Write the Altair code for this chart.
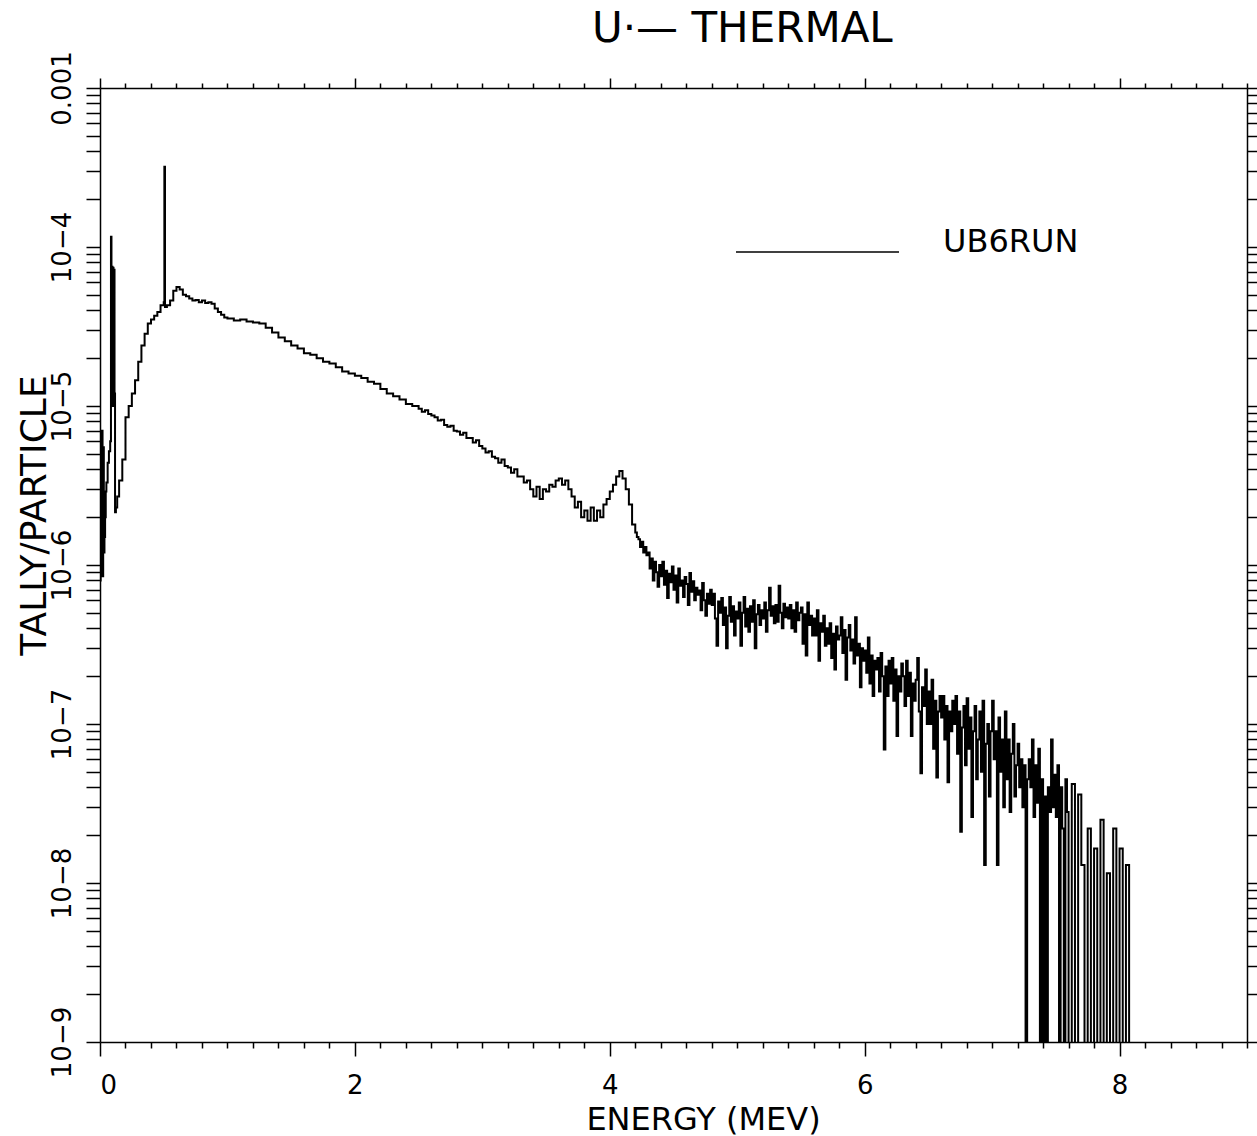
import altair as alt
import pandas as pd

FONT = "DejaVu Sans"

# ---- data ----
# low-energy part: bin lower edges (MeV) and tally/particle
low_energy = [
    0.000, 0.005, 0.010, 0.015, 0.020, 0.025, 0.030, 0.035, 0.040, 0.045,
    0.050, 0.060, 0.070, 0.080, 0.086, 0.090, 0.094, 0.098, 0.102, 0.106,
    0.110, 0.114, 0.118, 0.125, 0.135, 0.150, 0.175, 0.200, 0.225, 0.250,
    0.275, 0.300, 0.325, 0.350, 0.375, 0.400, 0.425, 0.450, 0.475, 0.500,
    0.505, 0.510, 0.525, 0.550, 0.575, 0.600, 0.625, 0.650, 0.675, 0.700,
    0.725, 0.750, 0.775, 0.800, 0.825, 0.850, 0.875, 0.900, 0.925, 0.950,
    0.975, 1.000, 1.050, 1.100, 1.150, 1.200, 1.250, 1.300, 1.350, 1.400,
    1.450, 1.500, 1.550, 1.600, 1.650, 1.700, 1.750, 1.800, 1.850, 1.900,
    1.950, 2.000, 2.050, 2.100, 2.150, 2.200, 2.250, 2.300, 2.350, 2.400,
    2.450,
]
low_tally = [
    8.0e-7, 6.5e-6, 9.0e-7, 7.0e-6, 8.5e-7, 5.5e-6, 1.2e-6, 1.5e-6, 2.0e-6, 2.9e-6,
    3.3e-6, 4.4e-6, 5.2e-6, 6.0e-6, 1.16e-4, 1.0e-5, 7.5e-5, 1.1e-5, 7.4e-5, 1.0e-5,
    7.2e-5, 1.2e-5, 2.15e-6, 2.3e-6, 2.7e-6, 3.4e-6, 4.6e-6, 8.5e-6, 1.0e-5, 1.2e-5,
    1.45e-5, 1.9e-5, 2.4e-5, 2.85e-5, 3.3e-5, 3.5e-5, 3.7e-5, 3.9e-5, 4.3e-5, 4.5e-5,
    3.2e-4, 4.2e-5, 4.3e-5, 4.6e-5, 5.3e-5, 5.6e-5, 5.4e-5, 5.0e-5, 4.9e-5, 4.75e-5,
    4.6e-5, 4.65e-5, 4.5e-5, 4.6e-5, 4.45e-5, 4.5e-5, 4.4e-5, 4.1e-5, 3.9e-5, 3.75e-5,
    3.6e-5, 3.55e-5, 3.45e-5, 3.5e-5, 3.4e-5, 3.35e-5, 3.3e-5, 3.1e-5, 2.9e-5, 2.7e-5,
    2.55e-5, 2.4e-5, 2.3e-5, 2.15e-5, 2.1e-5, 2.0e-5, 1.9e-5, 1.85e-5, 1.75e-5, 1.65e-5,
    1.6e-5, 1.55e-5, 1.5e-5, 1.42e-5, 1.38e-5, 1.28e-5, 1.2e-5, 1.15e-5, 1.1e-5, 1.03e-5,
    1.0e-5,
]

# 2.5 - 4.2 MeV: uniform bins of 0.025 MeV
mid_start, mid_width = 2.5, 0.025
mid_tally = [
    9.6e-6, 9.2e-6, 9.4e-6, 8.9e-6,      # 2.5
    8.7e-6, 8.5e-6, 8.1e-6, 8.2e-6,      # 2.6
    7.6e-6, 7.4e-6, 7.5e-6, 7.0e-6,      # 2.7
    6.9e-6, 6.6e-6, 6.8e-6, 6.3e-6,      # 2.8
    6.3e-6, 5.9e-6, 6.1e-6, 5.6e-6,      # 2.9
    5.4e-6, 5.1e-6, 5.2e-6, 4.8e-6,      # 3.0
    4.7e-6, 4.4e-6, 4.6e-6, 4.2e-6,      # 3.1
    4.1e-6, 3.8e-6, 4.0e-6, 3.6e-6,      # 3.2
    3.6e-6, 3.3e-6, 3.4e-6, 3.0e-6,      # 3.3
    2.7e-6, 3.1e-6, 2.6e-6, 3.0e-6,      # 3.4
    2.9e-6, 3.2e-6, 3.1e-6, 3.4e-6,      # 3.5
    3.5e-6, 3.2e-6, 3.4e-6, 3.0e-6,      # 3.6
    2.7e-6, 2.3e-6, 2.5e-6, 2.0e-6,      # 3.7
    2.2e-6, 1.9e-6, 2.3e-6, 1.9e-6,      # 3.8
    2.2e-6, 2.0e-6, 2.4e-6, 2.6e-6,      # 3.9
    2.9e-6, 3.2e-6, 3.6e-6, 3.9e-6,      # 4.0
    3.5e-6, 3.0e-6, 2.4e-6, 1.8e-6,      # 4.1
]

# 4.2 - 7.6 MeV: uniform bins of 0.0125 MeV (0 = empty bin)
hi_start, hi_width = 4.2, 0.0125
hi_tally = [
    1.6e-6, 1.5e-6, 1.45e-6, 1.3e-6, 1.4e-6, 1.2e-6, 1.3e-6, 1.15e-6,      # 4.2
    1.2e-6, 9.5e-7, 1.1e-6, 8.0e-7, 1.05e-6, 9.0e-7, 7.3e-7, 1.0e-6,       # 4.3
    8.5e-7, 1.05e-6, 7.5e-7, 9.2e-7, 6.2e-7, 8.8e-7, 7.8e-7, 9.8e-7,       # 4.4
    7.0e-7, 8.6e-7, 5.8e-7, 9.5e-7, 7.4e-7, 8.0e-7, 6.3e-7, 8.4e-7,        # 4.5
    7.6e-7, 5.6e-7, 8.9e-7, 6.8e-7, 7.9e-7, 6.0e-7, 7.2e-7, 6.5e-7,        # 4.6
    6.9e-7, 5.2e-7, 7.7e-7, 6.0e-7, 4.8e-7, 6.6e-7, 5.7e-7, 7.0e-7,        # 4.7
    5.6e-7, 6.6e-7, 4.6e-7, 3.1e-7, 5.9e-7, 5.0e-7, 6.2e-7, 4.2e-7,        # 4.8
    5.4e-7, 3.0e-7, 4.8e-7, 6.3e-7, 4.4e-7, 5.5e-7, 3.6e-7, 5.1e-7,        # 4.9
    4.6e-7, 5.8e-7, 3.1e-7, 5.0e-7, 6.3e-7, 4.1e-7, 5.3e-7, 3.8e-7,        # 5.0
    5.5e-7, 4.4e-7, 6.0e-7, 3.0e-7, 4.9e-7, 5.6e-7, 4.2e-7, 5.2e-7,        # 5.1
    4.6e-7, 5.8e-7, 3.8e-7, 5.2e-7, 7.2e-7, 4.8e-7, 5.5e-7, 4.3e-7,        # 5.2
    5.6e-7, 4.4e-7, 7.4e-7, 5.0e-7, 4.0e-7, 5.7e-7, 4.7e-7, 5.4e-7,        # 5.3
    4.6e-7, 5.6e-7, 4.0e-7, 5.2e-7, 3.8e-7, 5.8e-7, 4.5e-7, 5.0e-7,        # 5.4
    5.4e-7, 3.2e-7, 4.9e-7, 2.7e-7, 5.8e-7, 4.2e-7, 4.8e-7, 3.6e-7,        # 5.5
    4.6e-7, 3.6e-7, 5.2e-7, 2.5e-7, 4.3e-7, 3.8e-7, 4.8e-7, 3.1e-7,        # 5.6
    4.0e-7, 3.2e-7, 4.3e-7, 2.6e-7, 3.7e-7, 2.2e-7, 4.1e-7, 3.4e-7,        # 5.7
    3.6e-7, 4.7e-7, 2.8e-7, 3.9e-7, 1.9e-7, 3.5e-7, 4.2e-7, 2.9e-7,        # 5.8
    3.4e-7, 2.4e-7, 4.7e-7, 2.7e-7, 3.2e-7, 1.7e-7, 3.0e-7, 2.5e-7,        # 5.9
    2.9e-7, 2.1e-7, 3.5e-7, 1.8e-7, 2.7e-7, 1.5e-7, 2.5e-7, 2.2e-7,        # 6.0
    2.6e-7, 1.6e-7, 2.8e-7, 2.0e-7, 6.9e-8, 2.3e-7, 1.5e-7, 2.5e-7,        # 6.1
    1.8e-7, 2.6e-7, 1.4e-7, 2.2e-7, 8.4e-8, 2.0e-7, 1.6e-7, 2.4e-7,        # 6.2
    2.0e-7, 1.3e-7, 2.5e-7, 1.5e-7, 2.1e-7, 8.4e-8, 1.8e-7, 1.4e-7,        # 6.3
    1.9e-7, 2.6e-7, 1.2e-7, 4.9e-8, 1.7e-7, 1.3e-7, 2.2e-7, 1.0e-7,        # 6.4
    1.6e-7, 1.0e-7, 1.9e-7, 7.0e-8, 1.4e-7, 4.6e-8, 1.2e-7, 1.5e-7,        # 6.5
    1.1e-7, 1.5e-7, 8.0e-8, 1.3e-7, 4.3e-8, 1.2e-7, 9.0e-8, 1.4e-7,        # 6.6
    1.0e-7, 1.5e-7, 6.5e-8, 1.2e-7, 2.1e-8, 9.5e-8, 1.3e-7, 5.5e-8,        # 6.7
    1.45e-7, 7.0e-8, 1.1e-7, 2.6e-8, 9.0e-8, 1.3e-7, 4.5e-8, 8.0e-8,       # 6.8
    1.2e-7, 5.0e-8, 1.4e-7, 1.3e-8, 7.5e-8, 1.0e-7, 3.5e-8, 9.0e-8,        # 6.9
    1.4e-7, 6.0e-8, 9.0e-8, 1.3e-8, 1.1e-7, 5.0e-8, 8.0e-8, 3.0e-8,        # 7.0
    1.2e-7, 4.5e-8, 8.0e-8, 2.8e-8, 6.5e-8, 1.0e-7, 3.5e-8, 5.5e-8,        # 7.1
    7.5e-8, 4.0e-8, 6.0e-8, 3.0e-8, 5.5e-8, 0, 4.5e-8, 6.0e-8,             # 7.2
    4.0e-8, 8.0e-8, 2.6e-8, 5.5e-8, 3.2e-8, 7.0e-8, 0, 4.5e-8,             # 7.3
    0, 3.5e-8, 0, 4.0e-8, 2.8e-8, 8.0e-8, 3.0e-8, 4.8e-8,                  # 7.4
    2.6e-8, 5.5e-8, 0, 4.0e-8, 2.2e-8, 0, 4.5e-8, 2.8e-8,                  # 7.5
]

# 7.6 - 8.1 MeV: uniform bins of 0.025 MeV (0 = empty bin)
tail_start, tail_width = 7.6, 0.025
tail_tally = [
    0, 4.2e-8, 0, 3.6e-8,                # 7.6
    1.3e-8, 0, 2.2e-8, 0,                # 7.7
    1.65e-8, 0, 2.5e-8, 0,               # 7.8
    1.15e-8, 0, 2.2e-8, 0,               # 7.9
    1.65e-8, 0, 1.3e-8, 0,               # 8.0
]
end_energy = 8.1

series_name = "UB6RUN"
title_text = "U·—  THERMAL"
x_title = "ENERGY (MEV)"
y_title = "TALLY/PARTICLE"

x_ticks = [round(i * 0.2, 1) for i in range(46)]
y_ticks = [float(f"{m}e{e}") for e in range(-9, -3) for m in range(1, 10)] + [1e-3]

# ---- table ----
FLOOR = 1e-11  # empty bins drop below the axis


def edges(start, width, n):
    return [round(start + i * width, 5) for i in range(n)]


energy = (list(low_energy)
          + edges(mid_start, mid_width, len(mid_tally))
          + edges(hi_start, hi_width, len(hi_tally))
          + edges(tail_start, tail_width, len(tail_tally))
          + [end_energy])
tally = list(low_tally) + mid_tally + hi_tally + tail_tally + [0]
tally = [v if v > 0 else FLOOR for v in tally]
df = pd.DataFrame({"energy": energy, "tally": tally, "series": series_name})

major_test = "abs(datum.value % 2) < 0.001"
decade_test = "abs(log(datum.value)/LN10 - round(log(datum.value)/LN10)) < 0.001"

bottom_axis = alt.Axis(
    orient="bottom", values=x_ticks, grid=False,
    labelExpr=f"{major_test} ? format(datum.value, 'd') : ''",
    tickSize={"condition": {"test": major_test, "value": 14}, "value": 6},
    tickColor="black", tickWidth=1.5, domainColor="black", domainWidth=1.5,
    labelFont=FONT, labelFontSize=26, labelColor="black", labelPadding=16,
    labelOverlap=False,
    title=x_title, titleFont=FONT, titleFontSize=32, titleFontWeight="normal",
    titleColor="black", titleX=603, titleY=87, titleAlign="center",
    titleBaseline="alphabetic",
)
left_axis = alt.Axis(
    orient="left", values=y_ticks, grid=False,
    labelExpr=f"{decade_test} ? (datum.value > 0.0005 ? '0.001' : '10\u2212' + (-round(log(datum.value)/LN10))) : ''",
    tickSize=14, tickColor="black", tickWidth=1.5,
    domainColor="black", domainWidth=1.5,
    labelFont=FONT, labelFontSize=26, labelColor="black", labelPadding=11,
    labelAngle=270, labelAlign="center", labelBaseline="bottom", labelOverlap=False,
    title=y_title, titleFont=FONT, titleFontSize=36, titleFontWeight="normal",
    titleColor="black", titleAngle=270, titleX=-55, titleY=427,
    titleAlign="center", titleBaseline="alphabetic",
)
top_axis = alt.Axis(
    orient="top", values=x_ticks, grid=False, labels=False, title="",
    tickSize={"condition": {"test": major_test, "value": 10}, "value": 5},
    tickColor="black", tickWidth=1.5, domainColor="black", domainWidth=1.5,
)
right_axis = alt.Axis(
    orient="right", values=y_ticks, grid=False, labels=False, title="",
    tickSize=10, tickColor="black", tickWidth=1.5,
    domainColor="black", domainWidth=1.5,
)

legend = alt.Legend(
    orient="none", legendX=635, legendY=81.5, title=None,
    symbolType="stroke", symbolSize=26569, symbolStrokeWidth=1.5,
    symbolStrokeColor="black", labelFont=FONT, labelFontSize=32,
    labelColor="black", labelOffset=43, labelBaseline="alphabetic", padding=0,
)

x_scale = alt.Scale(domain=[0, 9], nice=False, zero=False)
y_scale = alt.Scale(type="log", domain=[1e-9, 1e-3], nice=False)

base = alt.Chart(df)
line = base.mark_line(interpolate="step-after", strokeWidth=2, clip=True).encode(
    x=alt.X("energy:Q", scale=x_scale, axis=bottom_axis),
    y=alt.Y("tally:Q", scale=y_scale, axis=left_axis),
    color=alt.Color("series:N", scale=alt.Scale(range=["black"]), legend=legend),
)
frame = base.mark_line(opacity=0, clip=True).encode(
    x=alt.X("energy:Q", scale=x_scale, axis=top_axis),
    y=alt.Y("tally:Q", scale=y_scale, axis=right_axis),
)

chart = (
    alt.layer(line, frame)
    .resolve_axis(x="independent", y="independent")
    .properties(
        width=1147, height=954,
        title=alt.TitleParams(
            text=title_text, anchor="start", dx=576, offset=-33,
            font=FONT, fontSize=42, fontWeight="normal", color="black",
            baseline="alphabetic",
        ),
        padding={"left": 100, "top": 88, "right": 10, "bottom": 94},
        autosize=alt.AutoSizeParams(type="none"),
        background="white",
    )
    .configure_view(strokeWidth=0)
)

chart.save("out.html", embed_options={"renderer": "svg", "actions": False})
